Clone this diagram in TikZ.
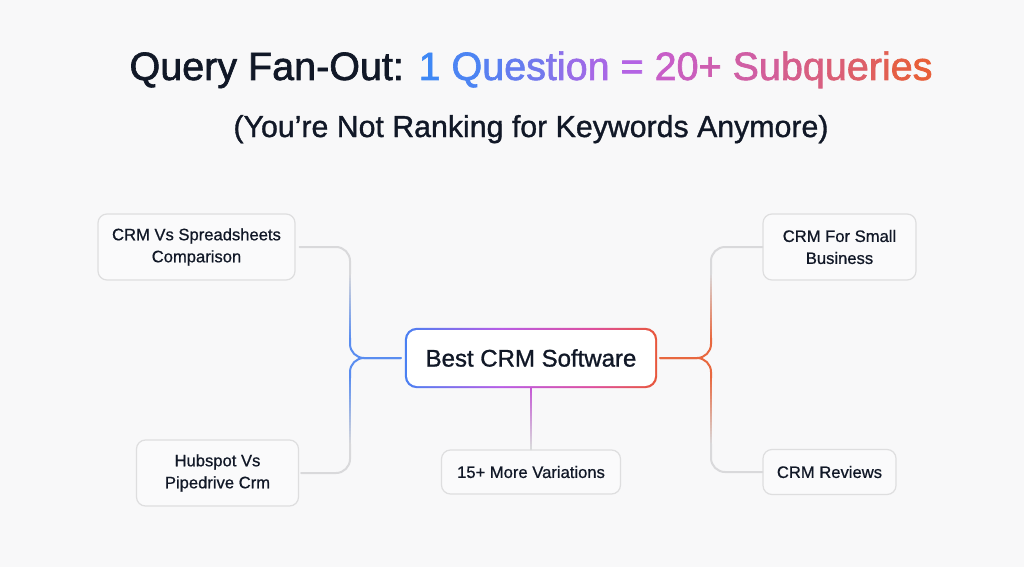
\documentclass[tikz,border=0pt]{standalone}
\usepackage{fontspec}
\setmainfont{Liberation Sans}
\newfontfamily\fTitle[FakeBold=1.6]{Liberation Sans}
\newfontfamily\fSub[FakeBold=1.1]{Liberation Sans}
\newfontfamily\fBox[FakeBold=0.7]{Liberation Sans}
\usetikzlibrary{calc}
\definecolor{bgc}{HTML}{F8F8F9}
\definecolor{boxfill}{HTML}{FAFAFB}
\definecolor{boxline}{HTML}{DEDEDF}
\definecolor{lgrey}{HTML}{D9D9DB}
\definecolor{cBlue}{HTML}{5A8DF0}
\definecolor{cOrange}{HTML}{E8683F}
\definecolor{cPurple}{HTML}{C55AD5}
\definecolor{txt}{HTML}{111827}
\definecolor{gB}{HTML}{4A80F2}
\definecolor{gP}{HTML}{B85DE6}
\definecolor{gK}{HTML}{DD4FA0}
\definecolor{gR}{HTML}{E8573A}
\definecolor{tA}{HTML}{3F88F5}
\definecolor{tB}{HTML}{B464E4}
\definecolor{tC}{HTML}{C85EC8}
\definecolor{tD}{HTML}{E85F3A}
\pgfdeclarelayer{bg}
\pgfsetlayers{bg,main}
\pgfdeclarehorizontalshading{cbs}{100bp}{color(0bp)=(gB); color(25bp)=(gB); color(44bp)=(gP); color(62bp)=(gK); color(75bp)=(gR); color(100bp)=(gR)}
\newcommand\tc[2]{\textcolor{#1}{#2}}
\newcommand\gradseg[4]{%
  \foreach \k in {0,...,23}{%
    \pgfmathtruncatemacro\pp{round(100*\k/23)}%
    \draw[conn,draw=#4!\pp!#3] ($(#1)!{\k/24}!(#2)$) -- ($(#1)!{(\k+1)/24}!(#2)$);
  }}
\tikzset{
  box/.style={draw=boxline, line width=1.2pt, fill=boxfill, rounded corners=9pt,
    align=center, text=txt, inner sep=0pt, font=\fBox\fontsize{16.6}{22}\selectfont},
  conn/.style={line width=2pt, line cap=round},
}
\begin{document}
\begin{tikzpicture}[x=1pt,y=-1pt]
\begin{pgfonlayer}{bg}
\fill[bgc] (0,0) rectangle (1024,567);
\end{pgfonlayer}
\useasboundingbox (0,0) rectangle (1024,567);

% titles
\node[anchor=base, inner sep=0pt, text=txt, font=\fTitle\fontsize{39.5}{46}\selectfont] (title) at (531,80)
 {Query Fan-Out: \tc{tB!0!tA}{1} \tc{tB!11!tA}{Q}\tc{tB!22!tA}{u}\tc{tB!33!tA}{e}\tc{tB!44!tA}{s}\tc{tB!56!tA}{t}\tc{tB!67!tA}{i}\tc{tB!78!tA}{o}\tc{tB!89!tA}{n} \tc{tB}{=} \tc{tD!0!tC}{2}\tc{tD!8!tC}{0}\tc{tD!17!tC}{+} \tc{tD!25!tC}{S}\tc{tD!33!tC}{u}\tc{tD!42!tC}{b}\tc{tD!50!tC}{q}\tc{tD!58!tC}{u}\tc{tD!67!tC}{e}\tc{tD!75!tC}{r}\tc{tD!83!tC}{i}\tc{tD!92!tC}{e}\tc{tD!100!tC}{s}};
\node[anchor=base, inner sep=0pt, text=txt, font=\fSub\fontsize{30.3}{36}\selectfont] (subtitle) at (531,137)
 {(You’re Not Ranking for Keywords Anymore)};

% nodes
\node[box, minimum width=197pt, minimum height=66pt] (b1) at (196.5,247) {CRM Vs Spreadsheets\\Comparison};
\node[box, minimum width=162pt, minimum height=66pt] (b2) at (217.5,473) {Hubspot Vs\\Pipedrive Crm};
\node[box, minimum width=153pt, minimum height=66pt] (b3) at (839.5,247) {CRM For Small\\Business};
\node[box, minimum width=133pt, minimum height=45pt] (b4) at (829.5,472) {CRM Reviews};
\node[box, minimum width=179pt, minimum height=44pt] (b5) at (531,472) {15+ More Variations};
\node[inner sep=0pt, minimum width=252pt, minimum height=60pt, text=txt, font=\fSub\fontsize{24}{28}\selectfont] (cbox) at (531,358) {Best CRM Software};
\begin{pgfonlayer}{bg}
\shade[shading=cbs, rounded corners=12pt] (cbox.north west) rectangle (cbox.south east);
\fill[white, rounded corners=10pt] ([shift={(2.2pt,-2.2pt)}]cbox.north west) rectangle ([shift={(-2.2pt,2.2pt)}]cbox.south east);
\end{pgfonlayer}

% junction coordinates
\coordinate (jl) at (350,358);
\coordinate (jr) at (711,358);
\coordinate (l1) at (350,340);
\coordinate (l2) at (350,272);
\coordinate (l3) at (350,376);
\coordinate (l4) at (350,446);
\coordinate (r1) at (711,340);
\coordinate (r2) at (711,272);
\coordinate (r3) at (711,376);
\coordinate (r4) at (711,446);

% left brace
\draw[conn, cBlue, rounded corners=14pt] ([xshift=-4pt]cbox.west) -- (jl) -- (350,338);
\draw[conn, cBlue, rounded corners=14pt] ([xshift=-4pt]cbox.west) -- (jl) -- (350,378);
\gradseg{l1}{l2}{cBlue}{lgrey}
\gradseg{l3}{l4}{cBlue}{lgrey}
\draw[conn, lgrey, rounded corners=14pt] (350,274) -- (350,247) -- ([xshift=4pt]b1.east);
\draw[conn, lgrey, rounded corners=14pt] (350,444) -- (350,473) -- ([xshift=2pt]b2.east);

% right brace
\draw[conn, cOrange, rounded corners=14pt] ([xshift=3pt]cbox.east) -- (jr) -- (711,338);
\draw[conn, cOrange, rounded corners=14pt] ([xshift=3pt]cbox.east) -- (jr) -- (711,378);
\gradseg{r1}{r2}{cOrange}{lgrey}
\gradseg{r3}{r4}{cOrange}{lgrey}
\draw[conn, lgrey, rounded corners=14pt] (711,274) -- (711,247) -- (b3.west);
\draw[conn, lgrey, rounded corners=14pt] (711,444) -- (711,472) -- (b4.west);

% bottom link
\gradseg{cbox.south}{b5.north}{cPurple}{lgrey}
\end{tikzpicture}
\end{document}
